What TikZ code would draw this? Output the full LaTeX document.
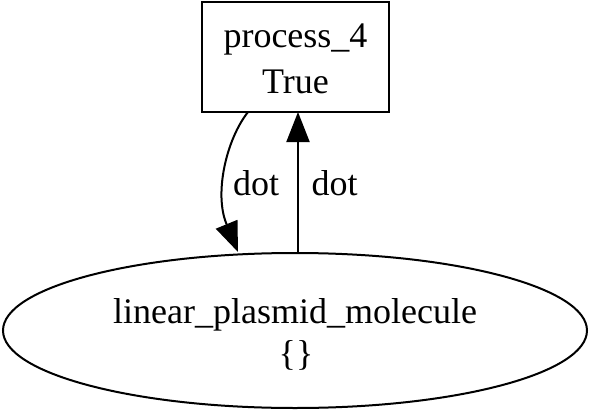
\documentclass[tikz,border=0pt]{standalone}
\usepackage{fontspec}
\setmainfont{Liberation Serif}
\usetikzlibrary{shapes.geometric,arrows.meta}
\begin{document}
\begin{tikzpicture}[x=1pt,y=-1pt,
  lbl/.style={font=\fontsize{36}{42}\selectfont, inner sep=0pt, anchor=base},
  wire/.style={line width=2pt},
  edge/.style={line width=2pt, -{Triangle[length=30pt,width=23pt]}}]
\useasboundingbox (0,0) rectangle (589,412);
\node[draw, line width=2pt, minimum width=187pt, minimum height=110pt, inner sep=0pt] (p) at (295.5,57) {};
\node[lbl] (pt1) at (295.5,47.5) {process\_4};
\node[lbl] (pt2) at (295.5,93) {True};
\node[draw, ellipse, line width=2pt, minimum width=584pt, minimum height=155pt, inner sep=0pt] (m) at (295,330.5) {};
\node[lbl] (mt1) at (295,323) {linear\_plasmid\_molecule};
\node[lbl] (mt2) at (296,365) {\{\}};
\coordinate (a1) at (248,112);
\coordinate (a3) at (226.5,224);
\coordinate (a2) at (238,252);
\coordinate (b1) at (298,253);
\coordinate (b2) at (298,112);
\draw[wire] (a1) .. controls (226,140) and (214,194) .. (a3);
\draw[edge] (a3) -- (a2);
\draw[edge] (b1) -- (b2);
\node[lbl] (l1) at (256,195) {dot};
\node[lbl] (l2) at (334.5,195) {dot};
\end{tikzpicture}
\end{document}
